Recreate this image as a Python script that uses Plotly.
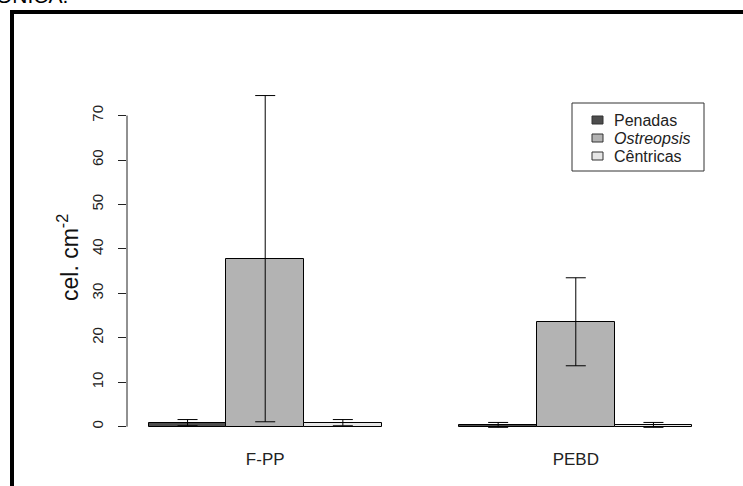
import plotly.graph_objects as go

categories = ["F-PP", "PEBD"]
series_names = ["Penadas", "<i>Ostreopsis</i>", "Cêntricas"]
penadas = [0.9, 0.4]
penadas_err = [0.7, 0.55]
ostreopsis = [37.8, 23.6]
ostreopsis_err = [36.7, 9.9]
centricas = [0.9, 0.4]
centricas_err = [0.7, 0.55]
y_ticks = [0, 10, 20, 30, 40, 50, 60, 70]

colors = ["#4d4d4d", "#b3b3b3", "#e6e6e6"]
values = [penadas, ostreopsis, centricas]
errors = [penadas_err, ostreopsis_err, centricas_err]

W, H = 743, 486
L, R, T, B = 127, 29, 80, 46
pw, ph = W - L - R, H - T - B

def px2x(p):
    return (p - L) / pw

def py2y(p):
    return 1 - (p - T) / ph

n_series = len(values)
group_step = n_series + 1
fig = go.Figure()
for j, (name, vals, errs, col) in enumerate(zip(series_names, values, errors, colors)):
    xs = [i * group_step + 1 + j + 0.5 for i in range(len(categories))]
    fig.add_trace(go.Bar(
        x=xs, y=vals, width=1, name=name, showlegend=False,
        marker=dict(color=col, line=dict(color="#000000", width=1)),
        error_y=dict(type="data", array=errs, visible=True, color="#000000", thickness=1, width=10),
    ))

centers = [i * group_step + 1 + n_series / 2 for i in range(len(categories))]

font = "Liberation Sans, Arial, sans-serif"
fig.update_layout(
    width=W, height=H,
    margin=dict(l=L, r=R, t=T, b=B),
    paper_bgcolor="white", plot_bgcolor="white",
    barmode="overlay", bargap=0,
    font=dict(family=font, color="#222222", size=15),
    showlegend=False,
    xaxis=dict(
        range=[0.72, 8.28], showgrid=False, zeroline=False, showline=False,
        tickvals=centers, ticktext=categories, ticks="", ticklabelstandoff=7,
        tickfont=dict(size=17, color="#222222"),
    ),
    yaxis=dict(
        range=[-3, 78], showgrid=False, zeroline=False, showline=False,
        tickvals=y_ticks, ticks="outside", ticklen=8, tickcolor="#222222", tickwidth=1,
        tickangle=-90, ticklabelstandoff=9, tickfont=dict(size=15, color="#222222"),
    ),
)

# y axis line from first to last tick
fig.add_shape(type="line", xref="paper", yref="y", x0=0, x1=0, y0=y_ticks[0], y1=y_ticks[-1],
              line=dict(color="#222222", width=1))

# y axis title
fig.add_annotation(text="cel. cm<sup>-2</sup>", xref="paper", yref="paper",
                   x=px2x(68), y=py2y(258), xanchor="center", yanchor="middle",
                   textangle=-90, showarrow=False,
                   font=dict(family=font, size=23, color="#111111"))

# legend box (drawn manually to match the compact R legend)
fig.add_shape(type="rect", xref="paper", yref="paper", x0=px2x(572), x1=px2x(704),
              y0=py2y(103), y1=py2y(171), line=dict(color="#333333", width=1),
              fillcolor="white")
leg_rows = [120, 138, 156]
for name, col, yc in zip(series_names, colors, leg_rows):
    fig.add_shape(type="rect", xref="paper", yref="paper", x0=px2x(592), x1=px2x(603),
                  y0=py2y(yc - 4), y1=py2y(yc + 4), line=dict(color="#333333", width=1),
                  fillcolor=col)
    fig.add_annotation(text=name, xref="paper", yref="paper", x=px2x(613), y=py2y(yc),
                       xanchor="left", yanchor="middle", showarrow=False,
                       height=17, valign="middle", borderpad=0,
                       font=dict(family=font, size=16, color="#222222"))

# outer frame (thick black lines)
fig.add_shape(type="line", xref="paper", yref="paper", x0=px2x(12), x1=px2x(12),
              y0=py2y(10), y1=py2y(500), line=dict(color="black", width=4))
fig.add_shape(type="line", xref="paper", yref="paper", x0=px2x(10), x1=px2x(760),
              y0=py2y(12), y1=py2y(12), line=dict(color="black", width=4))

# clipped heading text at top
fig.add_annotation(text="ÔNICA.", xref="paper", yref="paper", x=px2x(70), y=py2y(9),
                   xanchor="right", yanchor="bottom", showarrow=False,
                   font=dict(family=font, size=21, color="black"))

fig.write_html("out.html")
